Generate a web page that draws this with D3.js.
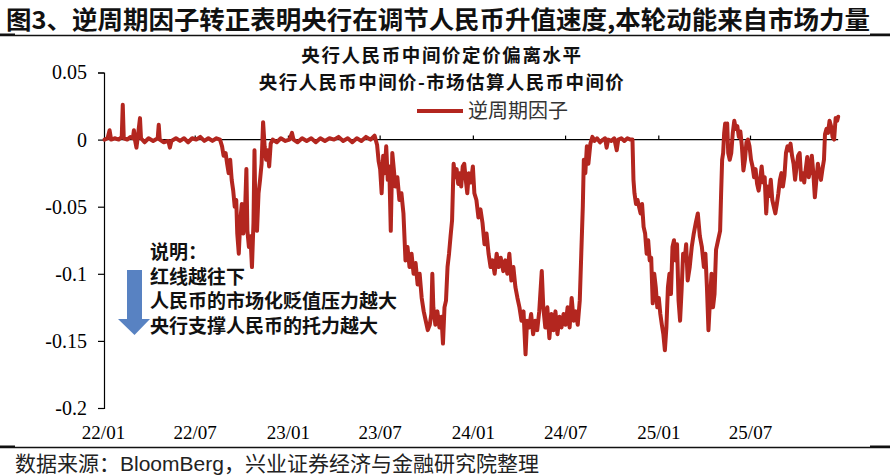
<!DOCTYPE html>
<html><head><meta charset="utf-8">
<script src="https://cdn.jsdelivr.net/npm/d3@7"></script>
<style>html,body{margin:0;padding:0;background:#fff}</style>
</head><body><svg id="c" width="890" height="476"></svg>
<script>
// ---- data ----
const chartTitle = "图3、逆周期因子转正表明央行在调节人民币升值速度,本轮动能来自市场力量";
const subTitle1 = "央行人民币中间价定价偏离水平";
const subTitle2 = "央行人民币中间价-市场估算人民币中间价";
const seriesName = "逆周期因子";
const noteLines = ["说明：", "红线越往下", "人民币的市场化贬值压力越大", "央行支撑人民币的托力越大"];
const sourceText = "数据来源：BloomBerg，兴业证券经济与金融研究院整理";

const yTicks = [0.05, 0, -0.05, -0.1, -0.15, -0.2];
const yTickLabels = ["0.05", "0", "-0.05", "-0.1", "-0.15", "-0.2"];
const xTickDates = ["2022-01-01","2022-07-01","2023-01-01","2023-07-01","2024-01-01","2024-07-01","2025-01-01","2025-07-01"];
const xTickLabels = ["22/01","22/07","23/01","23/07","24/01","24/07","25/01","25/07"];

const dates = [
"2022-01-04","2022-01-10","2022-01-14","2022-01-17","2022-01-24","2022-02-01","2022-02-07","2022-02-09","2022-02-11","2022-02-18",
"2022-02-24","2022-03-01","2022-03-03","2022-03-05","2022-03-08","2022-03-10","2022-03-15","2022-03-17","2022-03-24","2022-04-01",
"2022-04-10","2022-04-19","2022-04-21","2022-04-23","2022-05-01","2022-05-10","2022-05-13","2022-05-16","2022-05-25","2022-06-02",
"2022-06-10","2022-06-18","2022-06-26","2022-07-04","2022-07-12","2022-07-20","2022-07-28","2022-08-05","2022-08-13","2022-08-20",
"2022-08-24","2022-08-27","2022-08-31","2022-09-03","2022-09-06","2022-09-09","2022-09-12","2022-09-15","2022-09-18","2022-09-21",
"2022-09-23","2022-09-26","2022-09-29","2022-10-02","2022-10-05","2022-10-08","2022-10-11","2022-10-13","2022-10-16","2022-10-19",
"2022-10-22","2022-10-25","2022-10-27","2022-10-29","2022-11-01","2022-11-04","2022-11-07","2022-11-10","2022-11-13","2022-11-16",
"2022-11-19","2022-11-22","2022-11-25","2022-11-28","2022-12-02","2022-12-10","2022-12-18","2022-12-27",
"2023-01-04","2023-01-09","2023-01-12","2023-01-20","2023-01-29","2023-02-07","2023-02-16","2023-02-25","2023-03-06","2023-03-15",
"2023-03-24","2023-04-02","2023-04-11","2023-04-20","2023-04-29","2023-05-08","2023-05-17","2023-05-26","2023-06-04","2023-06-13",
"2023-06-21","2023-06-26","2023-06-29","2023-07-02","2023-07-05","2023-07-08","2023-07-11","2023-07-14","2023-07-17","2023-07-20",
"2023-07-23","2023-07-26","2023-07-29","2023-08-01","2023-08-05","2023-08-09","2023-08-13","2023-08-17","2023-08-21","2023-08-25",
"2023-08-29","2023-09-02","2023-09-06","2023-09-10","2023-09-14","2023-09-18","2023-09-22","2023-09-26","2023-09-30","2023-10-04",
"2023-10-08","2023-10-11","2023-10-13","2023-10-15","2023-10-19","2023-10-23","2023-10-27","2023-10-31","2023-11-03","2023-11-06",
"2023-11-09","2023-11-12","2023-11-15","2023-11-18","2023-11-21","2023-11-24","2023-11-27","2023-11-30","2023-12-03","2023-12-06",
"2023-12-09","2023-12-12","2023-12-15","2023-12-18","2023-12-21","2023-12-24","2023-12-28",
"2024-01-01","2024-01-04","2024-01-08","2024-01-12","2024-01-16","2024-01-20","2024-01-24","2024-01-28","2024-02-01","2024-02-05",
"2024-02-09","2024-02-13","2024-02-17","2024-02-21","2024-02-25","2024-03-01","2024-03-05","2024-03-09","2024-03-13","2024-03-17",
"2024-03-21","2024-03-25","2024-03-29","2024-04-02","2024-04-06","2024-04-10","2024-04-14","2024-04-17","2024-04-21","2024-04-25",
"2024-04-29","2024-05-03","2024-05-07","2024-05-11","2024-05-16","2024-05-19","2024-05-23","2024-05-27","2024-05-31","2024-06-04",
"2024-06-08","2024-06-12","2024-06-16","2024-06-20","2024-06-24","2024-06-28","2024-07-02","2024-07-06","2024-07-10","2024-07-14",
"2024-07-18","2024-07-22","2024-07-26","2024-07-30","2024-08-02","2024-08-05","2024-08-07","2024-08-10","2024-08-13","2024-08-16",
"2024-08-20","2024-08-24","2024-08-28","2024-09-02","2024-09-08","2024-09-14","2024-09-18","2024-09-21","2024-09-24","2024-09-30",
"2024-10-06","2024-10-11","2024-10-14","2024-10-20","2024-10-26","2024-11-01","2024-11-07","2024-11-11","2024-11-13","2024-11-15",
"2024-11-18","2024-11-21","2024-11-24","2024-11-27","2024-11-30","2024-12-03","2024-12-06","2024-12-09","2024-12-12","2024-12-15",
"2024-12-18","2024-12-21","2024-12-24","2024-12-27","2024-12-30",
"2025-01-02","2025-01-05","2025-01-08","2025-01-11","2025-01-14","2025-01-17","2025-01-20","2025-01-23","2025-01-26","2025-01-29",
"2025-02-01","2025-02-04","2025-02-07","2025-02-10","2025-02-13","2025-02-16","2025-02-19","2025-02-22","2025-02-25","2025-02-28",
"2025-03-04","2025-03-08","2025-03-12","2025-03-16","2025-03-20","2025-03-24","2025-03-28","2025-04-01","2025-04-04","2025-04-07",
"2025-04-10","2025-04-13","2025-04-16","2025-04-19","2025-04-22","2025-04-25","2025-04-29","2025-05-03","2025-05-05","2025-05-07",
"2025-05-09","2025-05-11","2025-05-13","2025-05-15","2025-05-17","2025-05-19","2025-05-22","2025-05-25","2025-05-28","2025-05-31",
"2025-06-03","2025-06-06","2025-06-09","2025-06-12","2025-06-15","2025-06-18","2025-06-21","2025-06-24","2025-06-27","2025-06-30",
"2025-07-03","2025-07-06","2025-07-09","2025-07-12","2025-07-15","2025-07-18","2025-07-21","2025-07-24","2025-07-27","2025-07-30",
"2025-08-02","2025-08-05","2025-08-08","2025-08-11","2025-08-14","2025-08-17","2025-08-20","2025-08-23","2025-08-26","2025-08-29",
"2025-09-01","2025-09-04","2025-09-07","2025-09-10","2025-09-13","2025-09-16","2025-09-19","2025-09-22","2025-09-25","2025-09-28",
"2025-10-01","2025-10-04","2025-10-07","2025-10-10","2025-10-13","2025-10-16","2025-10-19","2025-10-22","2025-10-25","2025-10-28",
"2025-10-31","2025-11-03","2025-11-06","2025-11-09","2025-11-12","2025-11-15","2025-11-18","2025-11-21","2025-11-24","2025-11-26",
"2025-11-29","2025-12-02","2025-12-05","2025-12-08","2025-12-11","2025-12-14","2025-12-17","2025-12-20","2025-12-22"
];
const values = [
0.000,0.001,0.007,0.000,0.001,0.000,0.002,0.026,0.001,0.000,
0.002,0.001,0.007,0.000,-0.006,0.000,0.016,0.001,-0.002,0.001,
-0.001,0.001,0.011,0.000,-0.002,-0.001,-0.006,-0.001,0.001,-0.001,
0.001,-0.002,0.001,0.000,0.002,-0.001,0.001,-0.001,0.001,0.000,
-0.005,-0.012,-0.010,-0.018,-0.025,-0.015,-0.030,-0.038,-0.050,-0.045,
-0.070,-0.085,-0.060,-0.048,-0.070,-0.058,-0.022,-0.068,-0.080,-0.072,
-0.095,-0.062,-0.008,-0.060,-0.068,-0.040,-0.030,-0.018,0.013,-0.005,
-0.015,-0.008,-0.020,-0.003,0.000,-0.002,0.001,-0.001,
0.000,0.005,0.000,-0.002,0.001,-0.001,0.001,-0.002,0.001,-0.001,
0.001,0.000,0.002,-0.001,0.001,-0.002,0.001,-0.001,0.002,0.000,
0.003,-0.004,-0.016,-0.022,-0.040,-0.012,-0.025,-0.005,-0.030,-0.020,
-0.068,-0.010,-0.022,-0.035,-0.028,-0.045,-0.040,-0.055,-0.090,-0.080,
-0.095,-0.085,-0.100,-0.092,-0.108,-0.100,-0.118,-0.128,-0.135,-0.142,
-0.138,-0.130,-0.100,-0.125,-0.138,-0.128,-0.140,-0.132,-0.152,-0.125,
-0.120,-0.095,-0.085,-0.072,-0.060,-0.018,-0.028,-0.022,-0.033,-0.025,
-0.035,-0.020,-0.018,-0.030,-0.040,-0.025,-0.032,
-0.020,-0.040,-0.045,-0.058,-0.052,-0.062,-0.078,-0.070,-0.085,-0.095,
-0.090,-0.100,-0.085,-0.095,-0.088,-0.098,-0.090,-0.100,-0.085,-0.105,
-0.095,-0.110,-0.118,-0.125,-0.135,-0.128,-0.160,-0.135,-0.140,-0.130,
-0.145,-0.135,-0.142,-0.128,-0.098,-0.125,-0.140,-0.125,-0.148,-0.130,
-0.142,-0.128,-0.145,-0.132,-0.140,-0.130,-0.138,-0.125,-0.140,-0.118,
-0.135,-0.128,-0.138,-0.120,-0.085,-0.050,-0.015,-0.025,-0.005,-0.018,
-0.003,0.002,-0.001,0.001,-0.002,0.000,0.001,-0.006,0.000,-0.001,
0.001,-0.008,0.000,0.001,-0.001,0.001,0.000,0.000,-0.030,-0.040,
-0.048,-0.045,-0.050,-0.055,-0.048,-0.065,-0.070,-0.085,-0.075,-0.090,
-0.088,-0.122,-0.100,-0.110,-0.125,
-0.118,-0.130,-0.138,-0.145,-0.157,-0.140,-0.110,-0.100,-0.115,-0.080,
-0.075,-0.090,-0.078,-0.120,-0.135,-0.112,-0.085,-0.090,-0.078,-0.105,
-0.095,-0.080,-0.070,-0.062,-0.055,-0.072,-0.080,-0.095,-0.085,-0.110,
-0.142,-0.120,-0.100,-0.125,-0.115,-0.082,-0.075,-0.068,-0.040,-0.015,
-0.010,0.005,0.012,0.008,0.012,-0.010,-0.015,-0.010,0.005,0.014,
0.008,0.010,0.002,0.006,-0.005,-0.023,-0.015,-0.002,0.000,-0.005,
-0.015,-0.020,-0.028,-0.022,-0.033,-0.038,-0.030,-0.020,-0.032,-0.028,
-0.055,-0.035,-0.042,-0.030,-0.045,-0.050,-0.055,-0.048,-0.040,-0.030,
-0.025,-0.035,-0.027,-0.010,-0.005,-0.008,-0.003,-0.012,-0.018,-0.030,
-0.020,-0.012,-0.010,-0.030,-0.025,-0.032,-0.022,-0.013,-0.028,-0.022,
-0.012,-0.025,-0.043,-0.030,-0.018,-0.025,-0.030,-0.022,-0.015,0.004,
0.008,0.005,0.014,0.010,0.002,0.000,0.016,0.014,0.017
];
const axisStart = "2022-01-01";
const axisEnd = "2025-12-22";

// ---- drawing ----
const parse = d3.timeParse("%Y-%m-%d");
const data = dates.map((d, i) => ({ date: parse(d), value: values[i] }));
const svg = d3.select("#c");
const CJK = "'Noto Sans CJK SC', 'Noto Sans', sans-serif";
const SERIF = "'Liberation Serif', 'DejaVu Serif', serif";
const RED = "#b3261f";

const x = d3.scaleTime().domain([parse("2022-01-01"), parse("2025-07-01")]).range([103, 750]);
const y = d3.scaleLinear().domain([-0.2, 0.05]).range([408, 72.5]);

// top title
svg.append("text").attr("x", 6).attr("y", 28.5)
  .attr("font-family", CJK).attr("font-weight", "bold").attr("font-size", 24.5)
  .attr("textLength", 864).attr("lengthAdjust", "spacingAndGlyphs")
  .attr("fill", "#111").text(chartTitle);
// rules
function rule(yy) {
  svg.append("line").attr("x1", 0).attr("x2", 890).attr("y1", yy).attr("y2", yy)
    .attr("stroke", "#111").attr("stroke-width", 1.5);
  svg.append("rect").attr("x", 0).attr("y", yy - 2).attr("width", 15).attr("height", 2.5).attr("fill", "#111");
  svg.append("rect").attr("x", 870).attr("y", yy - 2).attr("width", 20).attr("height", 2.5).attr("fill", "#111");
}
rule(35.5);
rule(447.5);

// y axis
const yAxis = d3.axisLeft(y).tickValues(yTicks)
  .tickFormat((d, i) => yTickLabels[i]).tickSize(6).tickPadding(11);
const gy = svg.append("g").attr("transform", "translate(104,0)").call(yAxis);
gy.select(".domain").attr("stroke", "#000").attr("stroke-width", 1.2);
gy.selectAll(".tick line").attr("stroke", "#000").attr("stroke-width", 1.2);
gy.selectAll(".tick text").attr("font-family", SERIF).attr("font-size", 20).attr("fill", "#000");

// x axis on the zero line (ticks upward)
const xTicksParsed = xTickDates.map(parse);
const xAxisTop = d3.axisTop(x).tickValues(xTicksParsed.slice(1)).tickSize(4).tickFormat("");
const gx = svg.append("g").attr("transform", `translate(0,${y(0)})`).call(xAxisTop);
gx.select(".domain").remove();
gx.selectAll(".tick line").attr("stroke", "#000").attr("stroke-width", 1.2);
svg.append("line").attr("x1", x(parse(axisStart)) + 1).attr("x2", x(parse(axisEnd)))
  .attr("y1", y(0)).attr("y2", y(0)).attr("stroke", "#000").attr("stroke-width", 1.2);

// x labels at bottom
const xAxisLabels = d3.axisBottom(x).tickValues(xTicksParsed)
  .tickFormat((d, i) => xTickLabels[i]).tickSize(0).tickPadding(0);
const gxl = svg.append("g").attr("transform", "translate(0,425)").call(xAxisLabels);
gxl.select(".domain").remove();
gxl.selectAll(".tick text").attr("font-family", SERIF).attr("font-size", 19).attr("fill", "#000");

// series line
const line = d3.line().x(d => x(d.date)).y(d => y(d.value));
svg.append("path").datum(data).attr("d", line)
  .attr("fill", "none").attr("stroke", RED).attr("stroke-width", 4)
  .attr("stroke-linejoin", "round").attr("stroke-linecap", "round");

// chart subtitle
svg.append("text").attr("x", 442).attr("y", 62).attr("text-anchor", "middle")
  .attr("font-family", CJK).attr("font-weight", "bold").attr("font-size", 18.5)
  .attr("letter-spacing", 1.6).attr("fill", "#111").text(subTitle1);
svg.append("text").attr("x", 442).attr("y", 89).attr("text-anchor", "middle")
  .attr("font-family", CJK).attr("font-weight", "bold").attr("font-size", 18.5)
  .attr("letter-spacing", 1.4).attr("fill", "#111").text(subTitle2);

// legend
svg.append("line").attr("x1", 417).attr("x2", 463).attr("y1", 111).attr("y2", 111)
  .attr("stroke", RED).attr("stroke-width", 3.8);
svg.append("text").attr("x", 468).attr("y", 118).attr("font-family", CJK).attr("font-size", 20)
  .attr("fill", "#333").text(seriesName);

// note
noteLines.forEach((t, i) => {
  svg.append("text").attr("x", 150).attr("y", 259 + i * 24.5)
    .attr("font-family", CJK).attr("font-weight", "bold").attr("font-size", 19).attr("fill", "#111").text(t);
});
// arrow
svg.append("path")
  .attr("d", "M127,270 L142,270 L142,319 L150,319 L134.5,335 L118,319 L127,319 Z")
  .attr("fill", "#5882c2");

// source
svg.append("text").attr("x", 15).attr("y", 470.5)
  .attr("font-family", "'Liberation Sans', 'Noto Sans CJK SC', sans-serif").attr("font-size", 21)
  .attr("fill", "#222").text(sourceText);
</script></body></html>
